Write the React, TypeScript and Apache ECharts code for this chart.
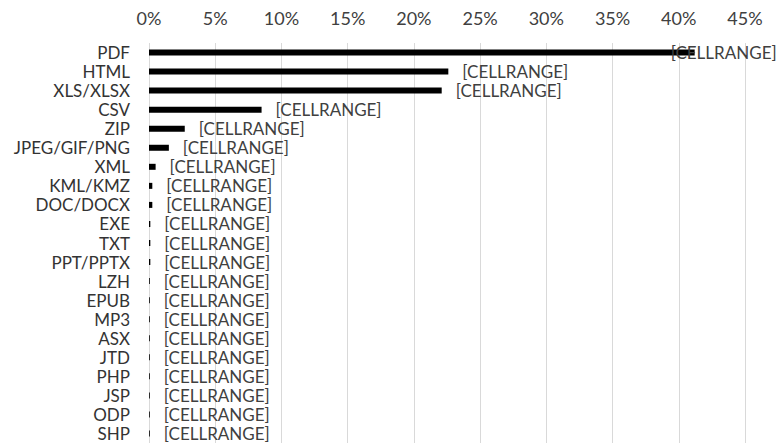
import React, { useEffect, useRef } from "react";
import * as echarts from "echarts";

const categories = [
  "PDF", "HTML", "XLS/XLSX", "CSV", "ZIP", "JPEG/GIF/PNG", "XML", "KML/KMZ", "DOC/DOCX",
  "EXE", "TXT", "PPT/PPTX", "LZH", "EPUB", "MP3", "ASX", "JTD", "PHP", "JSP", "ODP", "SHP",
];
const values = [
  41.2, 22.6, 22.1, 8.5, 2.7, 1.5, 0.5, 0.25, 0.25,
  0.1, 0.1, 0.1, 0.06, 0.06, 0.06, 0.06, 0.06, 0.06, 0.06, 0.06, 0.06,
];
const labelText = "[CELLRANGE]";

export default function App() {
  const ref = useRef<HTMLDivElement>(null);
  useEffect(() => {
    if (!ref.current) return;
    const chart = echarts.init(ref.current, null, { renderer: "svg" });
    const font = "Lato";
    chart.setOption({
      animation: false,
      grid: { left: 149, right: 37, top: 43, bottom: 0, containLabel: false },
      xAxis: {
        type: "value",
        position: "top",
        min: 0,
        max: 45,
        interval: 5,
        axisLine: { show: false },
        axisTick: { show: false },
        splitLine: { show: true, lineStyle: { color: "#d9d9d9", width: 1 } },
        axisLabel: {
          formatter: (v: number) => v + "%",
          color: "#404040",
          fontFamily: font,
          fontSize: 18,
          margin: 16,
        },
      },
      yAxis: {
        type: "category",
        data: categories,
        inverse: true,
        axisLine: { show: false },
        axisTick: { show: false },
        axisLabel: {
          interval: 0,
          hideOverlap: false,
          color: "#333333",
          fontFamily: font,
          fontSize: 17,
          lineHeight: 17,
          margin: 19,
        },
      },
      series: [
        {
          type: "bar",
          data: values.map((v, i) =>
            i === 0
              ? { value: v, label: { offset: [-38, 0] } }
              : v
          ),
          barWidth: 6,
          itemStyle: { color: "#000000" },
          label: {
            show: true,
            position: "right",
            distance: 14,
            formatter: () => labelText,
            color: "#404040",
            fontFamily: font,
            fontSize: 17,
            lineHeight: 17,
          },
        },
      ],
    });
    return () => chart.dispose();
  }, []);
  return (
    <div
      ref={ref}
      style={{ position: "absolute", left: 0, top: 0, width: 782, height: 443, background: "#fff" }}
    />
  );
}
